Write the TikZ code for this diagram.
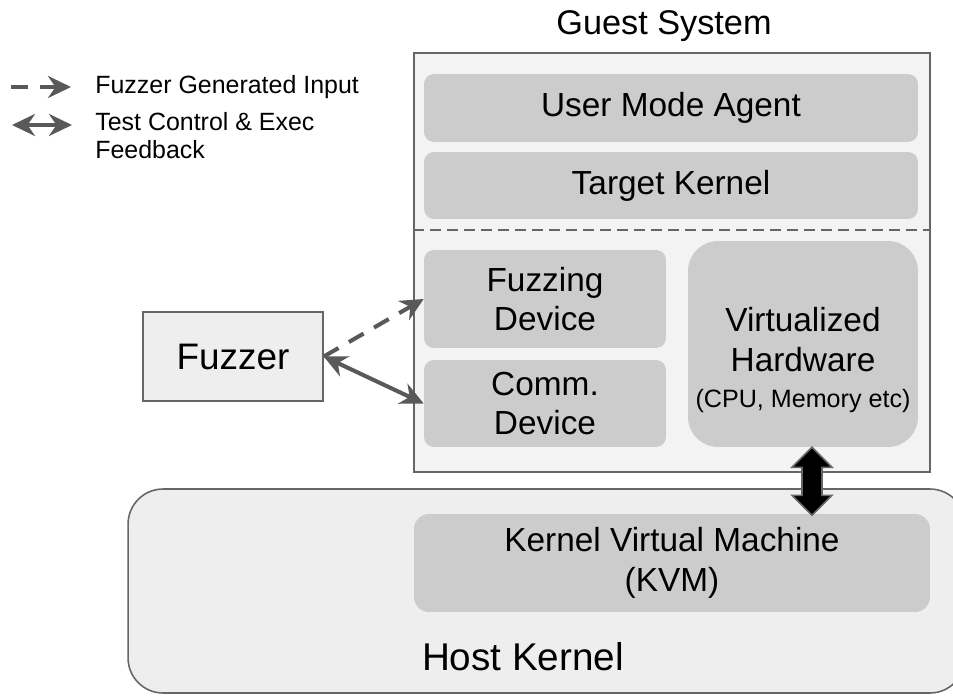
\documentclass[tikz,border=0pt]{standalone}
\usepackage{fontspec}
\setmainfont{Liberation Sans}
\usetikzlibrary{arrows.meta,calc}

\definecolor{boxgray}{HTML}{CCCCCC}
\definecolor{guestbg}{HTML}{F3F3F3}
\definecolor{hostbg}{HTML}{EEEEEE}
\definecolor{edgegray}{HTML}{666666}
\definecolor{arrowgray}{HTML}{595959}

\begin{document}
\begin{tikzpicture}[x=0.02cm,y=-0.02cm,
    outerbox/.style={draw=edgegray,line width=0.9pt,inner sep=0pt},
    innerbox/.style={fill=boxgray,rounded corners=2mm,inner sep=0pt,align=center,
      font=\fontsize{19}{22.5}\selectfont},
    boxtext/.style={align=center,inner sep=0pt,font=\fontsize{19}{22.5}\selectfont},
    legendtext/.style={align=left,inner sep=0pt,font=\fontsize{14.2}{16}\selectfont},
    tip/.tip={Stealth[length=4.6mm,width=4.4mm,inset=1.5mm]},
    feed/.style={draw=arrowgray,line width=2.3pt},
    fuzzdash/.style={dash pattern=on 3.4mm off 2.4mm}]

    \useasboundingbox (0,0) rectangle (953,696);

    % legend
    \coordinate (la) at (11,87);
    \coordinate (lb) at (71,87);
    \coordinate (lc) at (12,125);
    \coordinate (ld) at (72,125);
    \draw[feed,fuzzdash,-tip] (la) -- (lb);
    \draw[feed,tip-tip] (lc) -- (ld);
    \node[legendtext,anchor=west] (lgin) at (95,87) {Fuzzer Generated Input};
    \node[legendtext,anchor=west] (lgctl) at (95,136) {Test Control \& Exec\\Feedback};

    % host side
    \node[outerbox,fill=hostbg,rounded corners=7mm,minimum width=167.4mm,minimum height=40.8mm]
      (host) at (546.5,591) {};
    \node[innerbox,rounded corners=3mm,minimum width=103.2mm,minimum height=19.6mm]
      (kvm) at (672,563) {Kernel Virtual Machine\\(KVM)};
    \node[boxtext,font=\fontsize{22}{26}\selectfont] (hosttext) at (523,657) {Host Kernel};

    % guest side
    \node[font=\fontsize{19.5}{23}\selectfont,inner sep=0pt] (gtitle) at (664,26) {Guest System};
    \node[outerbox,fill=guestbg,minimum width=103.2mm,minimum height=83.8mm]
      (guest) at (672,262.5) {};
    \node[innerbox,minimum width=98.8mm,minimum height=13.6mm] (uma) at (671,108) {User Mode Agent};
    \node[innerbox,minimum width=98.8mm,minimum height=13.4mm] (tk) at (671,185.5) {Target Kernel};
    \draw[edgegray,line width=0.9pt,dash pattern=on 2.1mm off 1.3mm]
      (guest.west |- 0,230) -- (guest.east |- 0,230);
    \node[innerbox,minimum width=48.4mm,minimum height=19.6mm] (fd) at (545,299) {Fuzzing\\Device};
    \node[innerbox,minimum width=48.4mm,minimum height=17.4mm] (cd) at (545,403.5) {Comm.\\Device};
    \node[innerbox,rounded corners=6mm,minimum width=46mm,minimum height=41.2mm] (vh) at (803,344) {};
    \node[boxtext] (vhtext) at ($(vh.center)+(0,16)$)
      {Virtualized\\Hardware\\[-2pt]{\fontsize{14.3}{16}\selectfont (CPU, Memory etc)}};

    % fuzzer
    \node[outerbox,fill=hostbg,minimum width=36mm,minimum height=17.8mm,
      font=\fontsize{21}{25}\selectfont] (fuzzer) at (233,356.5) {Fuzzer};

    \draw[feed,fuzzdash,-tip] (fuzzer.east) -- (fd.west);
    \draw[feed,tip-tip] (fuzzer.east) -- (cd.west);

    % hardware <-> kvm
    \coordinate (hwtop) at ($(vh.south)+(9,0)$);
    \draw[draw=edgegray,fill=black,line width=0.9pt] (hwtop) -- ++(20,20) -- ++(-10,0) -- ++(0,28)
      -- ++(10,0) -- ++(-20,20) -- ++(-20,-20) -- ++(10,0) -- ++(0,-28) -- ++(-10,0) -- cycle;
\end{tikzpicture}
\end{document}
